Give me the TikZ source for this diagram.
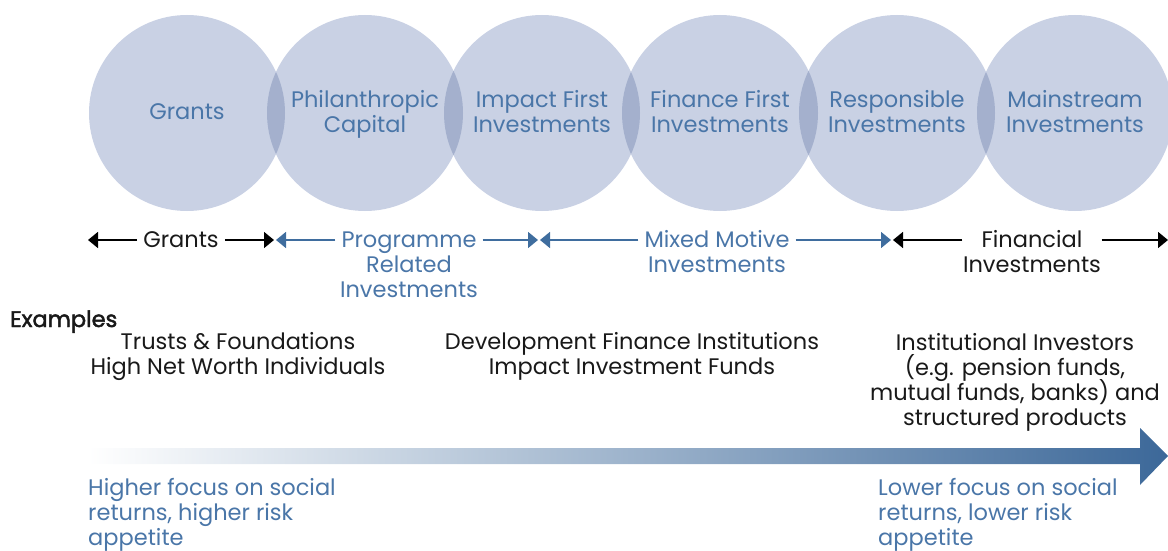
\documentclass[tikz,border=0pt]{standalone}
\usepackage{fontspec}
\setmainfont{Poppins}
\newfontfamily\examplesfont{Poppins}[FakeBold=2]
\usetikzlibrary{arrows.meta,positioning}
\definecolor{ringfill}{HTML}{C9D1E4}
\definecolor{ringdark}{HTML}{A4B0CD}
\definecolor{textblue}{HTML}{4A76A8}
\definecolor{lineblue}{HTML}{3F6D9E}
\definecolor{arrowblue}{HTML}{3C6899}
\setlength{\lineskiplimit}{-20pt}

\begin{document}
\begin{tikzpicture}[x=1pt,y=-1pt,
	txt/.style={font=\fontsize{22.5}{25}\selectfont, inner sep=0pt, text=black!90, anchor=base},
	bluetxt/.style={txt, text=textblue},
	seglbl/.style={txt, inner xsep=6pt},
	blktip/.style={line width=1.6pt, black, -{Triangle[length=10pt,width=16pt]}},
	bluetip/.style={line width=1.6pt, lineblue, -{Triangle[length=10pt,width=16pt]}}]
		%%%%% START %%%%%
		\useasboundingbox (0,0) rectangle (1168,551);
		
		% the six circles
		\foreach \cx in {187,365,542,720,897,1075}
			\fill[ringfill] (\cx,113) circle[radius=98pt];
		% overlaps
		\foreach \ca/\cb in {187/365,365/542,542/720,720/897,897/1075}{
			\begin{scope}
				\clip (\ca,113) circle[radius=98pt];
				\fill[ringdark] (\cb,113) circle[radius=98pt];
			\end{scope}
		}
		
		% multi-line nodes sit on the baseline of their last line
		\node[bluetxt] (grantsC) at (187,120) {Grants};
		\node[bluetxt, align=center] (philC) at (365,132) {Philanthropic\\Capital};
		\node[bluetxt, align=center] (impactC) at (542,132) {Impact First\\Investments};
		\node[bluetxt, align=center] (financeC) at (720,132) {Finance First\\Investments};
		\node[bluetxt, align=center] (respC) at (897,132) {Responsible\\Investments};
		\node[bluetxt, align=center] (mainC) at (1075,132) {Mainstream\\Investments};
		
		% segment arrows
		\coordinate (g0) at (88,240);
		\coordinate (g1) at (274,240);
		\coordinate (p0) at (276,240);
		\coordinate (p1) at (538,240);
		\coordinate (m0) at (540,240);
		\coordinate (m1) at (891,240);
		\coordinate (f0) at (893,240);
		\coordinate (f1) at (1168,240);
		
		\node[seglbl] (grantsA) at (181,247) {Grants};
		\node[seglbl, text=textblue] (progA) at (409,247) {Programme};
		\node[txt, text=textblue, align=center] at (409,297) {Related\\Investments};
		\node[seglbl, text=textblue] (mixedA) at (717,247) {Mixed Motive};
		\node[txt, text=textblue] at (717,272) {Investments};
		\node[seglbl, inner xsep=19pt] (finA) at (1032,247) {Financial};
		\node[txt] at (1032,272) {Investments};
		
		\draw[blktip] (grantsA.west |- g0) -- (g0);
		\draw[blktip] (grantsA.east |- g1) -- (g1);
		\draw[bluetip] (progA.west |- p0) -- (p0);
		\draw[bluetip] (progA.east |- p1) -- (p1);
		\draw[bluetip] (mixedA.west |- m0) -- (m0);
		\draw[bluetip] (mixedA.east |- m1) -- (m1);
		\draw[blktip] (finA.west |- f0) -- (f0);
		\draw[blktip] (finA.east |- f1) -- (f1);
		
		% examples
		\node[txt, font=\fontsize{22.5}{25}\selectfont\examplesfont, anchor=base west] (examples) at (10,327) {Examples};
		\node[txt, align=center] (trusts) at (238,374) {Trusts \& Foundations\\High Net Worth Individuals};
		\node[txt, align=center] (dfi) at (632,374) {Development Finance Institutions\\Impact Investment Funds};
		\node[txt, align=center] (inst) at (1015,425) {Institutional Investors\\(e.g. pension funds,\\mutual funds, banks) and\\structured products};
		
		% big shaded arrow
		\shade[left color=white, right color=arrowblue]
			(88,448) -- (1140,448) -- (1140,428) -- (1168,456) -- (1140,485) -- (1140,464) -- (88,464) -- cycle;
		
		\node[bluetxt, align=left, anchor=base west] (higher) at (88,545) {Higher focus on social\\returns, higher risk\\appetite};
		\node[bluetxt, align=left, anchor=base west] (lower) at (878,545) {Lower focus on social\\returns, lower risk\\appetite};
		%%%%% END %%%%%
\end{tikzpicture}
\end{document}
